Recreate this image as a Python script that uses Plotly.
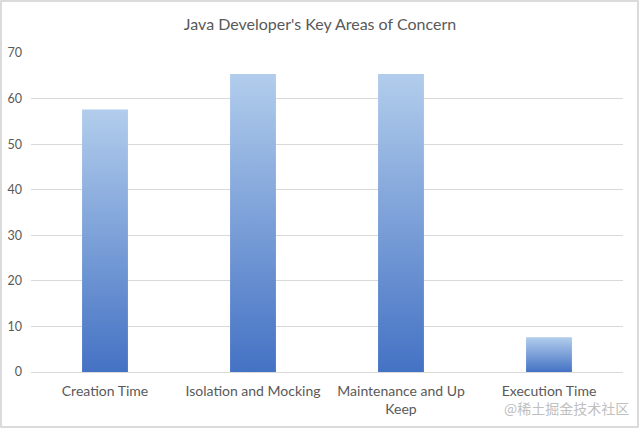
import plotly.graph_objects as go

categories = ["Creation Time", "Isolation and Mocking", "Maintenance and Up<br>Keep", "Execution Time"]
values = [57.6, 65.4, 65.4, 7.6]
y_ticks = [0, 10, 20, 30, 40, 50, 60, 70]

BAR_W = 0.31
DARK = "#4472c4"
LIGHT = "#b2cdec"

fig = go.Figure()
for i, v in enumerate(values):
    x0, x1 = i - BAR_W / 2, i + BAR_W / 2
    fig.add_trace(go.Scatter(
        x=[x0, x1, x1, x0, x0], y=[0, 0, v, v, 0],
        mode="lines", fill="toself", line=dict(width=0),
        fillgradient=dict(type="vertical", start=0, stop=v,
                          colorscale=[[0, DARK], [1, LIGHT]]),
        hoverinfo="skip", showlegend=False,
    ))

L, R, T, B = 31, 17, 53, 57
W, H = 640, 429
pw, ph = W - L - R, H - T - B

fig.update_layout(
    width=W, height=H,
    margin=dict(l=L, r=R, t=T, b=B),
    paper_bgcolor="white", plot_bgcolor="white",
    font=dict(family="Lato, Open Sans, sans-serif", color="#595959", size=14),
    title=dict(text="Java Developer's Key Areas of Concern", x=0.5, xanchor="center",
               y=1 - 24 / H, yanchor="middle", font=dict(size=16, color="#595959")),
    xaxis=dict(range=[-0.5, len(categories) - 0.5], tickvals=list(range(len(categories))),
               ticktext=categories, showgrid=False, zeroline=False, showline=True,
               linecolor="#d9d9d9", linewidth=1, ticks="", tickfont=dict(size=14, color="#595959"),
               ticklabelstandoff=6, automargin=False),
    yaxis=dict(range=[0, 70], tickvals=y_ticks, showgrid=True, gridcolor="#d9d9d9",
               zeroline=False, showline=False, ticks="", tickfont=dict(size=12.5, color="#595959"),
               ticklabelstandoff=8, automargin=False),
    shapes=[dict(type="rect", xref="paper", yref="paper",
                 x0=-(L - 1) / pw, x1=1 + (R - 2) / pw, y0=-(B - 2) / ph, y1=1 + (T - 1) / ph,
                 line=dict(color="#d0d0d0", width=1.5), fillcolor="rgba(0,0,0,0)")],
    annotations=[dict(text="@稀土掘金技术社区", xref="paper", yref="paper",
                      x=1 + 8 / pw, y=-(408 - (H - B)) / ph, xanchor="right", yanchor="middle",
                      showarrow=False,
                      font=dict(family="Noto Sans CJK SC", size=14, color="#c0c0c0"))],
)

fig.write_html("out.html", config={"displayModeBar": False},
               post_script="document.body.style.margin='0px';document.body.style.overflow='hidden';")
